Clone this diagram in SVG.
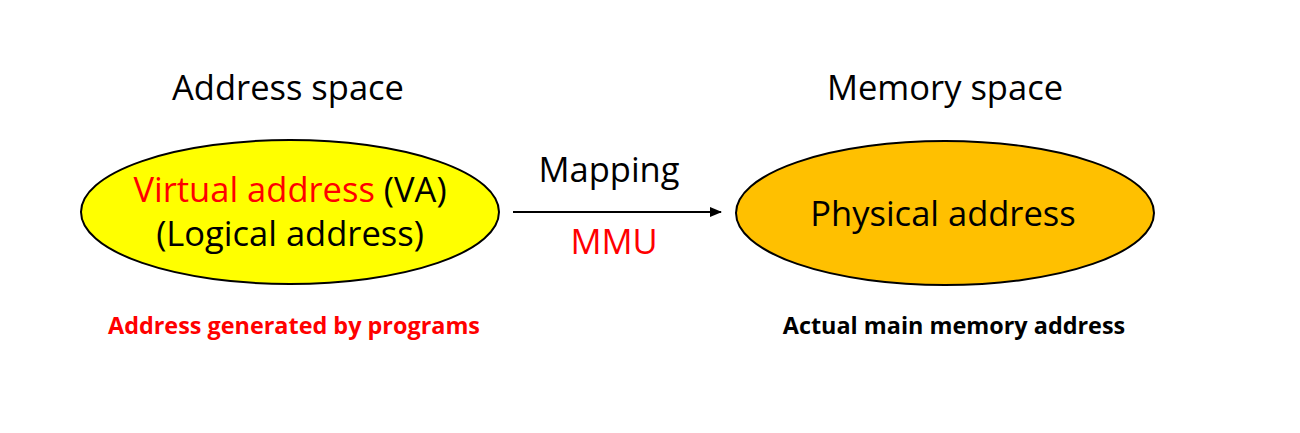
<svg xmlns="http://www.w3.org/2000/svg" width="1300" height="433" viewBox="0 0 1300 433">
<style>
.t{font-family:"Open Sans","Noto Sans","DejaVu Sans",sans-serif;text-anchor:middle;fill:#000}
.big{font-size:34.5px}
.small{font-size:23.4px;font-weight:bold}
.red{fill:#ff0000}
.node{stroke:#000;stroke-width:2}
</style>
<defs>
<marker id="ah" markerWidth="12" markerHeight="10" refX="11" refY="5" orient="auto" markerUnits="userSpaceOnUse">
<path d="M0,0 L12,5 L0,10 Z" fill="#000"/>
</marker>
</defs>
<rect width="1300" height="433" fill="#fff"/>
<text class="t big" x="288" y="100">Address space</text>
<text class="t big" x="945" y="100">Memory space</text>
<g id="va">
<ellipse class="node" cx="290" cy="212" rx="209" ry="72" fill="#ffff00"/>
<text class="t big" x="290" y="202"><tspan class="red">Virtual address</tspan> (VA)</text>
<text class="t big" x="290" y="246">(Logical address)</text>
</g>
<g id="pa">
<ellipse class="node" cx="945" cy="213" rx="209" ry="72" fill="#ffc000"/>
<text class="t big" x="943" y="226">Physical address</text>
</g>
<g id="connectors">
<line x1="513" y1="212" x2="721" y2="212" stroke="#000" stroke-width="2" marker-end="url(#ah)"/>
<text class="t big" x="609" y="182">Mapping</text>
<text class="t big red" x="614" y="254">MMU</text>
</g>
<text class="t small red" x="294" y="334">Address generated by programs</text>
<text class="t small" x="954" y="334">Actual main memory address</text>
</svg>
